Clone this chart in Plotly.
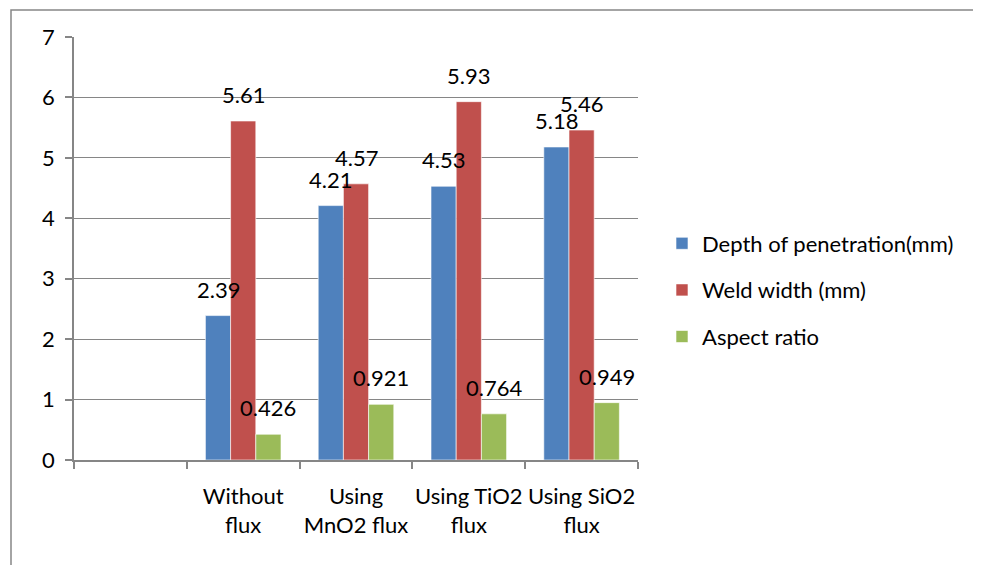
import plotly.graph_objects as go

categories = [" ", "Without<br>flux", "Using<br>MnO2 flux", "Using TiO2<br>flux", "Using SiO2<br>flux"]
depth = [None, 2.39, 4.21, 4.53, 5.18]
width = [None, 5.61, 4.57, 5.93, 5.46]
aspect = [None, 0.426, 0.921, 0.764, 0.949]
labels_depth = ["", "2.39", "4.21", "4.53", "5.18"]
labels_width = ["", "5.61", "4.57", "5.93", "5.46"]
labels_aspect = ["", "0.426", "0.921", "0.764", "0.949"]
series_names = ["Depth of penetration(mm)", "Weld width (mm)", "Aspect ratio"]
y_ticks = [0, 1, 2, 3, 4, 5, 6, 7]

colors = ["#4F81BD", "#C0504D", "#9BBB59"]
FONT = "Lato, Carlito, Calibri, sans-serif"
GRAY = "#868686"
FS = 22

# page has an 8px body margin; figure coords = page coords - 8
L, R_EDGE, T, B_EDGE = 66, 630, 29, 452
W, H = 981, 565
plot_w = R_EDGE - L
plot_h = B_EDGE - T

fig = go.Figure()
series = [depth, width, aspect]
labels = [labels_depth, labels_width, labels_aspect]
for i, (name, vals) in enumerate(zip(series_names, series)):
    fig.add_trace(go.Bar(
        x=categories, y=vals, name=name,
        marker=dict(color=colors[i], line=dict(color="white", width=0.6)),
        legendgroup=f"g{i}",
    ))

# data labels
bar_px = plot_w / len(categories) * (1 - 0.33) / 3
for i, (vals, labs) in enumerate(zip(series, labels)):
    for c, v, t in zip(categories, vals, labs):
        if v is None:
            continue
        fig.add_annotation(
            x=c, y=v, text=t, showarrow=False,
            xshift=(i - 1) * bar_px, yshift=11, yanchor="bottom",
            font=dict(family=FONT, size=FS, color="black"),
        )

fig.add_shape(type="rect", xref="paper", yref="paper",
              x0=(3 - L) / plot_w, x1=(967 - L) / plot_w,
              y0=(B_EDGE - 600) / plot_h, y1=(B_EDGE - 2) / plot_h,
              line=dict(color=GRAY, width=1.5), layer="below")

fig.update_layout(
    width=W, height=H,
    margin=dict(l=L, r=W - R_EDGE, t=T, b=H - B_EDGE, autoexpand=False),
    paper_bgcolor="white", plot_bgcolor="white",
    barmode="group", bargap=0.33, bargroupgap=0,
    font=dict(family=FONT, size=FS, color="black"),
    showlegend=True,
    legend=dict(x=(654 - L) / plot_w, y=(B_EDGE - 282) / plot_h, xanchor="left", yanchor="middle",
                font=dict(family=FONT, size=FS, color="black"),
                tracegroupgap=15, itemwidth=30, bgcolor="rgba(0,0,0,0)"),
    xaxis=dict(
        type="category", categoryorder="array", categoryarray=categories,
        range=[-0.5, len(categories) - 0.5],
        showline=True, linecolor=GRAY, linewidth=1.5,
        ticks="outside", tickson="boundaries", ticklen=7, tickcolor=GRAY, tickwidth=1.5,
        showgrid=False, tickfont=dict(family=FONT, size=FS, color="black"),
        ticklabelstandoff=16, tickangle=0,
    ),
    yaxis=dict(
        range=[0, 7], tickvals=y_ticks, showline=True, linecolor=GRAY, linewidth=1.5,
        ticks="outside", ticklen=7, tickcolor=GRAY, tickwidth=1.5,
        showgrid=True, gridcolor=GRAY, gridwidth=1.2, zeroline=False,
        tickfont=dict(family=FONT, size=FS, color="black"), ticklabelstandoff=6,
    ),
)

fig.write_html("out.html")
